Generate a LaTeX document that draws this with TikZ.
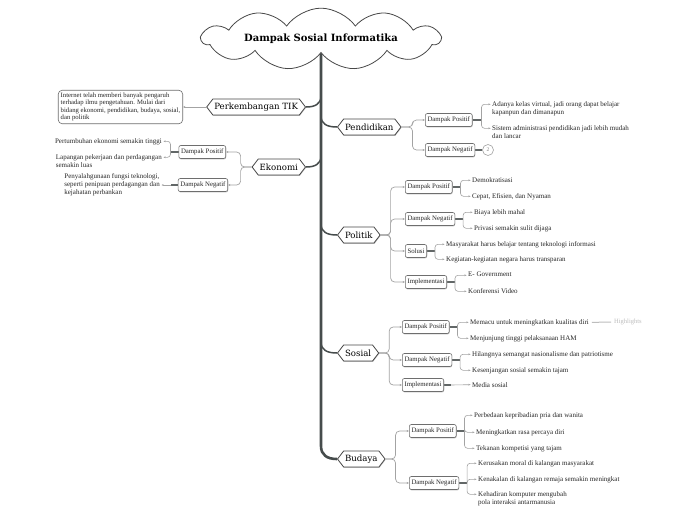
\documentclass[tikz,border=0pt]{standalone}
\usepackage{fontspec}
\setmainfont{Liberation Serif}
\newfontfamily\slab{DejaVu Serif}
\usetikzlibrary{shapes.symbols,shapes.geometric,arrows.meta,backgrounds,shadows}
\definecolor{trunkc}{HTML}{464C4C}
\definecolor{thinc}{HTML}{A3A3A3}
\definecolor{boxc}{HTML}{6E6E6E}
\definecolor{hexc}{HTML}{484848}
\definecolor{hlc}{HTML}{BDBDBD}
\definecolor{txtc}{HTML}{262626}
\tikzset{
  shad/.style={drop shadow={shadow xshift=0.4pt, shadow yshift=-0.9pt, fill=gray!50, opacity=1}},
  topic/.style={signal, signal to=east and west, signal pointer angle=105, draw=hexc, line width=0.8pt, fill=white, minimum height=16pt, inner xsep=1.4pt, inner ysep=0pt, font=\slab\fontsize{8.6}{9}\selectfont, shad},
  subbox/.style={draw=boxc, line width=0.6pt, rounded corners=2pt, fill=white, minimum height=13pt, inner xsep=2.2pt, inner ysep=0pt, text=txtc, font=\fontsize{6.8}{7}\selectfont, shad},
  leaf/.style={inner sep=0pt, text=txtc, font=\fontsize{7}{8}\selectfont, align=left, anchor=north west},
  leafl/.style={leaf, anchor=north east},
  trunk/.style={draw=trunkc, line width=2.6pt},
  branch/.style={draw=trunkc, line width=1.5pt},
  sub/.style={draw=thinc, line width=0.7pt, rounded corners=4pt, -{Stealth[length=2.4pt,width=2pt]}},
  stem/.style={draw=trunkc!85, line width=1.2pt},
  br/.style={draw=thinc, line width=0.6pt, rounded corners=3pt, -{Stealth[length=2.2pt,width=1.8pt]}},
}
\begin{document}
\begin{tikzpicture}[x=1pt,y=-1pt]
\useasboundingbox (0,0) rectangle (696,520);
% title
\node[cloud, cloud puffs=11, cloud puff arc=110, aspect=7, draw=hexc, line width=0.8pt, fill=white, minimum width=238pt, minimum height=26pt, inner sep=0pt, font=\slab\bfseries\fontsize{10}{12}\selectfont] (title) at (321,39) {Dampak Sosial Informatika};
% topics
\node[topic, anchor=east] (tik) at (306,107) {Perkembangan TIK};
\node[topic, anchor=east] (eko) at (306,167) {Ekonomi};
\node[topic, anchor=west] (pend) at (337,127) {Pendidikan};
\node[topic, anchor=west] (pol) at (337,235) {Politik};
\node[topic, anchor=west] (sos) at (337,353) {Sosial};
\node[topic, anchor=west] (bud) at (337,459) {Budaya};
% TIK
\node[draw=boxc, line width=0.6pt, rounded corners=4pt, fill=white, anchor=east, inner xsep=2.5pt, inner ysep=2.5pt, align=left, text=txtc, font=\fontsize{6.7}{7.5}\selectfont] (tikbox) at (183,107) {Internet telah memberi banyak pengaruh\\terhadap ilmu pengetahuan. Mulai dari\\bidang ekonomi, pendidikan, budaya, sosial,\\dan politik};
% Ekonomi
\node[subbox, anchor=east] (ekoP) at (226,152) {Dampak Positif};
\node[subbox, anchor=east] (ekoN) at (228,185) {Dampak Negatif};
\node[leafl] (ekoP1) at (162,138) {Pertumbuhan ekonomi semakin tinggi};
\node[leafl] (ekoP2) at (162,154) {Lapangan pekerjaan dan perdagangan\\semakin luas};
\node[leafl, anchor=east] (ekoN1) at (160,185) {Penyalahgunaan fungsi teknologi,\\seperti penipuan perdagangan dan\\kejahatan perbankan};
% Pendidikan
\node[subbox, anchor=west] (pendP) at (425,120) {Dampak Positif};
\node[subbox, anchor=west] (pendN) at (425,150) {Dampak Negatif};
\node[circle, draw=thinc, line width=0.6pt, minimum size=11pt, inner sep=0pt, font=\fontsize{5.5}{6}\selectfont, text=gray, fill=white] (pendN2) at (488,150) {2};
\node[leaf] (pendP1) at (492,101) {Adanya kelas virtual, jadi orang dapat belajar\\kapanpun dan dimanapun};
\node[leaf] (pendP2) at (492,125) {Sistem administrasi pendidikan jadi lebih mudah\\dan lancar};
% Politik
\node[subbox, anchor=west] (polP) at (405,187) {Dampak Positif};
\node[subbox, anchor=west] (polN) at (405,219) {Dampak Negatif};
\node[subbox, anchor=west] (polS) at (405,251) {Solusi};
\node[subbox, anchor=west] (polI) at (405,282) {Implementasi};
\node[leaf] (polP1) at (472,177) {Demokratisasi};
\node[leaf] (polP2) at (472,193) {Cepat, Efisien, dan Nyaman};
\node[leaf] (polN1) at (474,209) {Biaya lebih mahal};
\node[leaf] (polN2) at (474,225) {Privasi semakin sulit dijaga};
\node[leaf] (polS1) at (446,241) {Masyarakat harus belajar tentang teknologi informasi};
\node[leaf] (polS2) at (446,256) {Kegiatan-kegiatan negara harus transparan};
\node[leaf] (polI1) at (468,272) {E- Government};
\node[leaf] (polI2) at (468,288) {Konferensi Video};
% Sosial
\node[subbox, anchor=west] (sosP) at (402,327) {Dampak Positif};
\node[subbox, anchor=west] (sosN) at (402,360) {Dampak Negatif};
\node[subbox, anchor=west] (sosI) at (402,385) {Implementasi};
\node[leaf] (sosP1) at (470,319) {Memacu untuk meningkatkan kualitas diri};
\node[leaf] (sosP2) at (470,335) {Menjunjung tinggi pelaksanaan HAM};
\node[leaf] (sosN1) at (472,351) {Hilangnya semangat nasionalisme dan patriotisme};
\node[leaf] (sosN2) at (472,367) {Kesenjangan sosial semakin tajam};
\node[leaf] (sosI1) at (472,382) {Media sosial};
\node[anchor=west, inner sep=0pt, font=\fontsize{6.5}{7}\selectfont, text=hlc] (hl) at (614,322) {Highlights};
% Budaya
\node[subbox, anchor=west] (budP) at (409,431) {Dampak Positif};
\node[subbox, anchor=west] (budN) at (409,483) {Dampak Negatif};
\node[leaf] (budP1) at (474,412) {Perbedaan kepribadian pria dan wanita};
\node[leaf] (budP2) at (476,429) {Meningkatkan rasa percaya diri};
\node[leaf] (budP3) at (476,445) {Tekanan kompetisi yang tajam};
\node[leaf] (budN1) at (478,460) {Kerusakan moral di kalangan masyarakat};
\node[leaf] (budN2) at (478,476) {Kenakalan di kalangan remaja semakin meningkat};
\node[leaf] (budN3) at (478,491) {Kehadiran komputer mengubah\\pola interaksi antarmanusia};

\begin{scope}[on background layer]
\fill[white] (0,0) rectangle (696,520);
% trunk and branches
\coordinate (ttop) at (321,50);
\coordinate (tTik) at (321,96);
\coordinate (tEko) at (321,156);
\coordinate (tPend) at (321,116);
\coordinate (tPol) at (321,224);
\coordinate (tSos) at (321,342);
\coordinate (tBud) at (321,446);
\draw[trunk] (ttop) -- (tBud) .. controls (321,455) and (327,459) .. (bud.west);
\draw[branch] (tTik) .. controls (321,104) and (315,107) .. (tik.east);
\draw[branch] (tEko) .. controls (321,164) and (315,167) .. (eko.east);
\draw[branch] (tPend) .. controls (321,124) and (327,127) .. (pend.west);
\draw[branch] (tPol) .. controls (321,232) and (327,235) .. (pol.west);
\draw[branch] (tSos) .. controls (321,350) and (327,353) .. (sos.west);
% TIK
\draw[sub] (tik.west) -- (tikbox.east);
% Ekonomi
\draw[sub] (eko.west) -- ++(-11,0) |- (ekoP.east);
\draw[sub] (eko.west) -- ++(-11,0) |- (ekoN.east);
\coordinate (ekoPs) at ([xshift=-8pt]ekoP.west);
\draw[stem] (ekoP.west) -- (ekoPs);
\draw[br] (ekoPs) |- ([xshift=1.5pt,yshift=-3.3pt]ekoP1.north east);
\draw[br] (ekoPs) |- ([xshift=1.5pt,yshift=-3.3pt]ekoP2.north east);
\coordinate (ekoNs) at ([xshift=-7pt]ekoN.west);
\draw[stem] (ekoN.west) -- (ekoNs);
\draw[br] (ekoNs) -- ([xshift=1.5pt]ekoN1.east);
% Pendidikan
\draw[sub] (pend.east) -- ++(11,0) |- (pendP.west);
\draw[sub] (pend.east) -- ++(11,0) |- (pendN.west);
\coordinate (pendPs) at ([xshift=9pt]pendP.east);
\draw[stem] (pendP.east) -- (pendPs);
\draw[br] (pendPs) |- ([xshift=-1.5pt,yshift=-3.3pt]pendP1.north west);
\draw[br] (pendPs) |- ([xshift=-1.5pt,yshift=-3.3pt]pendP2.north west);
\draw[stem] (pendN.east) -- (pendN2.west);
% Politik
\foreach \c in {polP,polN,polS,polI}{\draw[sub] (pol.east) -- ++(10,0) |- (\c.west);}
\foreach \c/\a/\b in {polP/polP1/polP2,polN/polN1/polN2,polS/polS1/polS2,polI/polI1/polI2}{
  \coordinate (\c s) at ([xshift=8pt]\c.east);
  \draw[stem] (\c.east) -- (\c s);
  \draw[br] (\c s) |- ([xshift=-1.5pt,yshift=-3.3pt]\a.north west);
  \draw[br] (\c s) |- ([xshift=-1.5pt,yshift=-3.3pt]\b.north west);
}
% Sosial
\foreach \c in {sosP,sosN,sosI}{\draw[sub] (sos.east) -- ++(10,0) |- (\c.west);}
\foreach \c/\a/\b in {sosP/sosP1/sosP2,sosN/sosN1/sosN2}{
  \coordinate (\c s) at ([xshift=8pt]\c.east);
  \draw[stem] (\c.east) -- (\c s);
  \draw[br] (\c s) |- ([xshift=-1.5pt,yshift=-3.3pt]\a.north west);
  \draw[br] (\c s) |- ([xshift=-1.5pt,yshift=-3.3pt]\b.north west);
}
\coordinate (sosIs) at ([xshift=7pt]sosI.east);
\draw[stem] (sosI.east) -- (sosIs);
\draw[br] (sosIs) -- ([xshift=-1.5pt]sosI1.west);
\draw[draw=hlc, line width=1pt] ([xshift=3pt]sosP1.east) -- ([xshift=-3pt]hl.west);
% Budaya
\draw[sub] (bud.east) -- ++(10,0) |- (budP.west);
\draw[sub] (bud.east) -- ++(10,0) |- (budN.west);
\coordinate (budPs) at ([xshift=8pt]budP.east);
\draw[stem] (budP.east) -- (budPs);
\foreach \a in {budP1,budP2,budP3}{\draw[br] (budPs) |- ([xshift=-1.5pt,yshift=-3.3pt]\a.north west);}
\coordinate (budNs) at ([xshift=8pt]budN.east);
\draw[stem] (budN.east) -- (budNs);
\foreach \a in {budN1,budN2,budN3}{\draw[br] (budNs) |- ([xshift=-1.5pt,yshift=-3.3pt]\a.north west);}
\end{scope}
\end{tikzpicture}
\end{document}
